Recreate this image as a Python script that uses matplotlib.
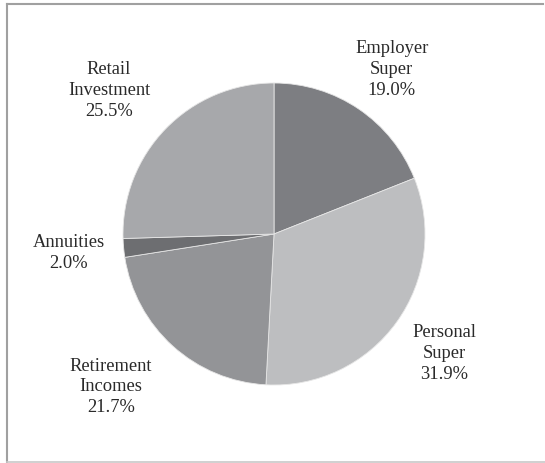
import matplotlib.pyplot as plt
from matplotlib.lines import Line2D

labels = ["Employer\nSuper", "Personal\nSuper", "Retirement\nIncomes", "Annuities", "Retail\nInvestment"]
shares = [19.0, 31.9, 21.7, 2.0, 25.5]
colors = ["#7d7e82", "#bdbec0", "#939497", "#6d6e71", "#a7a8ab"]
# label anchors, in pie radii from the centre
label_xy = [(0.78, 1.09), (1.126, -0.79), (-1.079, -1.012), (-1.36, -0.125), (-1.093, 0.95)]

plt.rcParams['font.family'] = ['Liberation Serif', 'DejaVu Serif']

W, H = 545, 463
fig = plt.figure(figsize=(W / 100, H / 100), dpi=100)

# pie axes: center (274, 234) px, radius 151 px
cx, cy, R = 274, 234, 151
ax = fig.add_axes([(cx - R) / W, (H - cy - R) / H, 2 * R / W, 2 * R / H])
wedges, _ = ax.pie(shares, colors=colors, startangle=90, counterclock=False,
                   wedgeprops=dict(edgecolor="#e6e6e6", linewidth=0.6))
ax.set_xlim(-1, 1)
ax.set_ylim(-1, 1)
ax.set_aspect("equal")
ax.axis("off")

for lab, val, (x, y) in zip(labels, shares, label_xy):
    ax.text(x, y, f"{lab}\n{val:.1f}%", ha="center", va="center",
            fontsize=13.3, color="#2a2a2a", linespacing=1.29, clip_on=False)

# frame around the figure (open on the right)
fc = "#a0a0a0"
fig.add_artist(Line2D([6.5 / W, 543 / W], [1 - 3.5 / H, 1 - 3.5 / H], color=fc, lw=1.5))
fig.add_artist(Line2D([6.5 / W, 6.5 / W], [1 - 3.5 / H, 1 - 462 / H], color=fc, lw=1.5))
fig.add_artist(Line2D([6.5 / W, 545 / W], [1 - 462 / H, 1 - 462 / H], color="#c8c8c8", lw=1.2))

fig.savefig("out.png", dpi=100)
